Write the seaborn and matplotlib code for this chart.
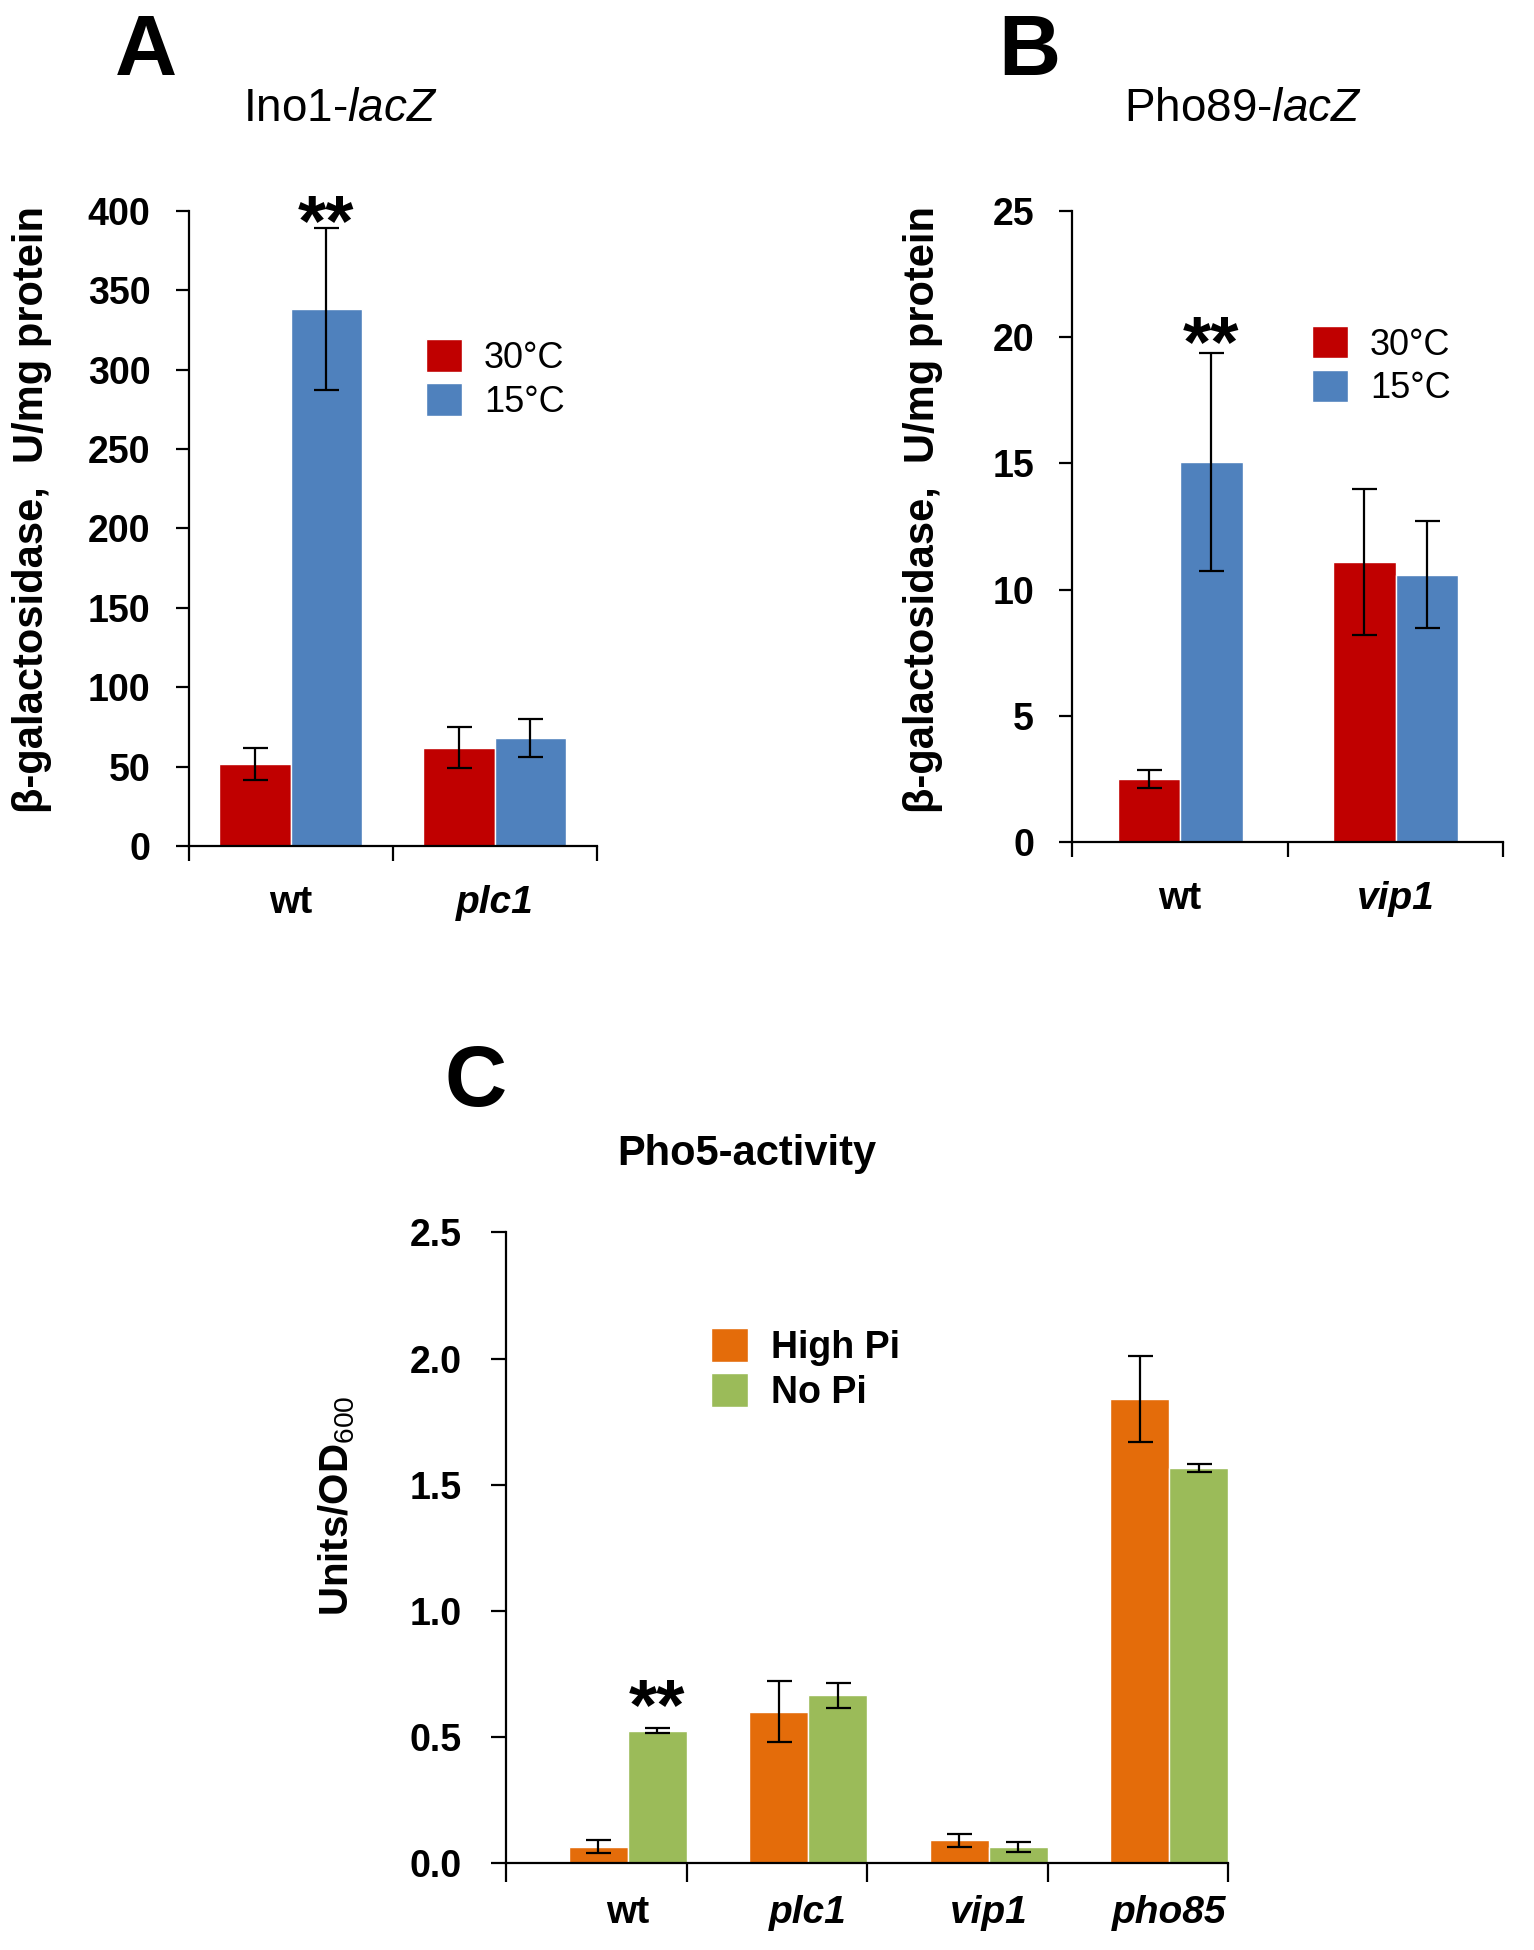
import numpy as np
import pandas as pd
import matplotlib.pyplot as plt
import seaborn as sns

# Panel A: Ino1-lacZ
a_groups = ['wt', 'plc1']
a_conds = ['30°C', '15°C']
a_30 = [52, 62]
a_30_err = [10, 13]
a_15 = [338, 68]
a_15_err = [51, 12]

# Panel B: Pho89-lacZ
b_groups = ['wt', 'vip1']
b_conds = ['30°C', '15°C']
b_30 = [2.5, 11.1]
b_30_err = [0.35, 2.9]
b_15 = [15.05, 10.6]
b_15_err = [4.3, 2.1]

# Panel C: Pho5-activity
c_groups = ['wt', 'plc1', 'vip1', 'pho85']
c_conds = ['High Pi', 'No Pi']
c_high = [0.065, 0.60, 0.09, 1.84]
c_high_err = [0.025, 0.12, 0.025, 0.17]
c_no = [0.525, 0.665, 0.065, 1.565]
c_no_err = [0.01, 0.05, 0.02, 0.015]

sns.set_style("ticks")
plt.rcParams['font.family'] = ['Liberation Sans', 'DejaVu Sans']
plt.rcParams['mathtext.fontset'] = 'custom'
plt.rcParams['mathtext.rm'] = 'Liberation Sans'
plt.rcParams['mathtext.it'] = 'Liberation Sans:italic'
plt.rcParams['mathtext.bf'] = 'Liberation Sans:bold'
for k in ['text.color', 'axes.labelcolor', 'xtick.color', 'ytick.color']:
    plt.rcParams[k] = 'black'

fig = plt.figure(figsize=(15.34, 19.5), dpi=100)
axA = fig.add_axes([0.123, 0.566, 0.266, 0.326])
axB = fig.add_axes([0.699, 0.568, 0.281, 0.324])
axC = fig.add_axes([0.3299, 0.0446, 0.4707, 0.3234])


def panel(ax, groups, conds, v1, e1, v2, e2, colors, width, shift, ylim,
          yticks, ylabels, ytick_len, ytick_pad, xtick_len, xlab_pad,
          star_off, leg_anchor, leg_fs, leg_weight):
    df = pd.DataFrame({
        'group': groups + groups,
        'cond': [conds[0]] * len(groups) + [conds[1]] * len(groups),
        'value': v1 + v2,
    })
    sns.barplot(data=df, x='group', y='value', hue='cond', hue_order=conds,
                palette=colors, width=width, saturation=1, errorbar=None,
                ax=ax, zorder=2)
    for cont, err in zip(ax.containers, [e1, e2]):
        xs = [p.get_x() + p.get_width() / 2 for p in cont]
        ys = [p.get_height() for p in cont]
        ax.errorbar(xs, ys, yerr=err, fmt='none', ecolor='black',
                    elinewidth=1.6, capsize=9, capthick=1.6, zorder=3)
    # significance stars over the first 15°C / No Pi bar
    p = ax.containers[1][0]
    ax.annotate('**', xy=(p.get_x() + p.get_width() / 2, v2[0] + e2[0]),
                xytext=(0, star_off), textcoords='offset points',
                ha='center', va='baseline', fontsize=52, fontweight='bold')

    ax.set_ylim(*ylim)
    ax.set_xlim(-0.5 - shift, len(groups) - 0.5 - shift)
    ax.set_yticks(yticks)
    ax.set_yticklabels(ylabels, fontsize=27, fontweight='bold')
    ax.set_xticks(range(len(groups)))
    ax.set_xticklabels(groups, fontsize=28, fontweight='bold')
    for lab in ax.get_xticklabels():
        if lab.get_text() != 'wt':
            lab.set_fontstyle('italic')
    ax.set_xticks(np.arange(len(groups) + 1) - 0.5 - shift, minor=True)
    ax.tick_params(axis='x', which='major', length=0, pad=xlab_pad)
    ax.tick_params(axis='x', which='minor', length=xtick_len, width=1.6,
                   direction='out')
    ax.tick_params(axis='y', length=ytick_len, width=1.6, pad=ytick_pad)
    ax.set_xlabel('')
    ax.set_ylabel('')
    sns.despine(ax=ax)
    for s in ['left', 'bottom']:
        ax.spines[s].set_linewidth(1.6)
        ax.spines[s].set_color('black')
    ax.legend(frameon=False, loc='upper left', bbox_to_anchor=leg_anchor,
              handlelength=1.0, handleheight=1.0, handletextpad=0.6,
              labelspacing=0.2, borderaxespad=0,
              prop={'size': leg_fs, 'weight': leg_weight})


red, blue = '#C00000', '#4F81BD'
orange, green = '#E46C0A', '#9BBB59'

panel(axA, a_groups, a_conds, a_30, a_30_err, a_15, a_15_err,
      {'30°C': red, '15°C': blue}, 0.7, 0.0, (0, 400), range(0, 401, 50),
      [str(v) for v in range(0, 401, 50)], 9.5, 18, 11, 28, -12,
      (0.547, 0.82), 26, 'normal')
panel(axB, b_groups, b_conds, b_30, b_30_err, b_15, b_15_err,
      {'30°C': red, '15°C': blue}, 0.58, 0.0, (0, 25), range(0, 26, 5),
      [str(v) for v in range(0, 26, 5)], 9.5, 18, 11, 28, -9,
      (0.523, 0.84), 26, 'normal')
panel(axC, c_groups, c_conds, c_high, c_high_err, c_no, c_no_err,
      {'High Pi': orange, 'No Pi': green}, 0.654, 0.173, (0, 2.5),
      np.arange(0, 2.51, 0.5), ['0.0', '0.5', '1.0', '1.5', '2.0', '2.5'],
      11, 21, 14, 23, -1, (0.263, 0.872), 27, 'bold')

# panel letters
for x, y, s in [(0.095, 0.973, 'A'), (0.671, 0.973, 'B'), (0.310, 0.444, 'C')]:
    fig.text(x, y, s, ha='center', va='center', fontsize=62, fontweight='bold')

# panel titles
fig.text(0.2215, 0.944, 'Ino1-$\\it{lacZ}$', ha='center', va='center', fontsize=33)
fig.text(0.810, 0.944, 'Pho89-$\\it{lacZ}$', ha='center', va='center', fontsize=33)
fig.text(0.4866, 0.408, 'Pho5-activity', ha='center', va='center', fontsize=30,
         fontweight='bold')

# y labels
ylab = 'β-galactosidase,  U/mg protein'
fig.text(0.021, 0.7385, ylab, rotation=90, ha='center', va='center',
         fontsize=30, fontweight='bold')
fig.text(0.6017, 0.7385, ylab, rotation=90, ha='center', va='center',
         fontsize=30, fontweight='bold')
fig.text(0.2197, 0.228, 'Units/OD$_{600}$', rotation=90, ha='center',
         va='center', fontsize=29, fontweight='bold')

fig.savefig('out.png', dpi=100)
